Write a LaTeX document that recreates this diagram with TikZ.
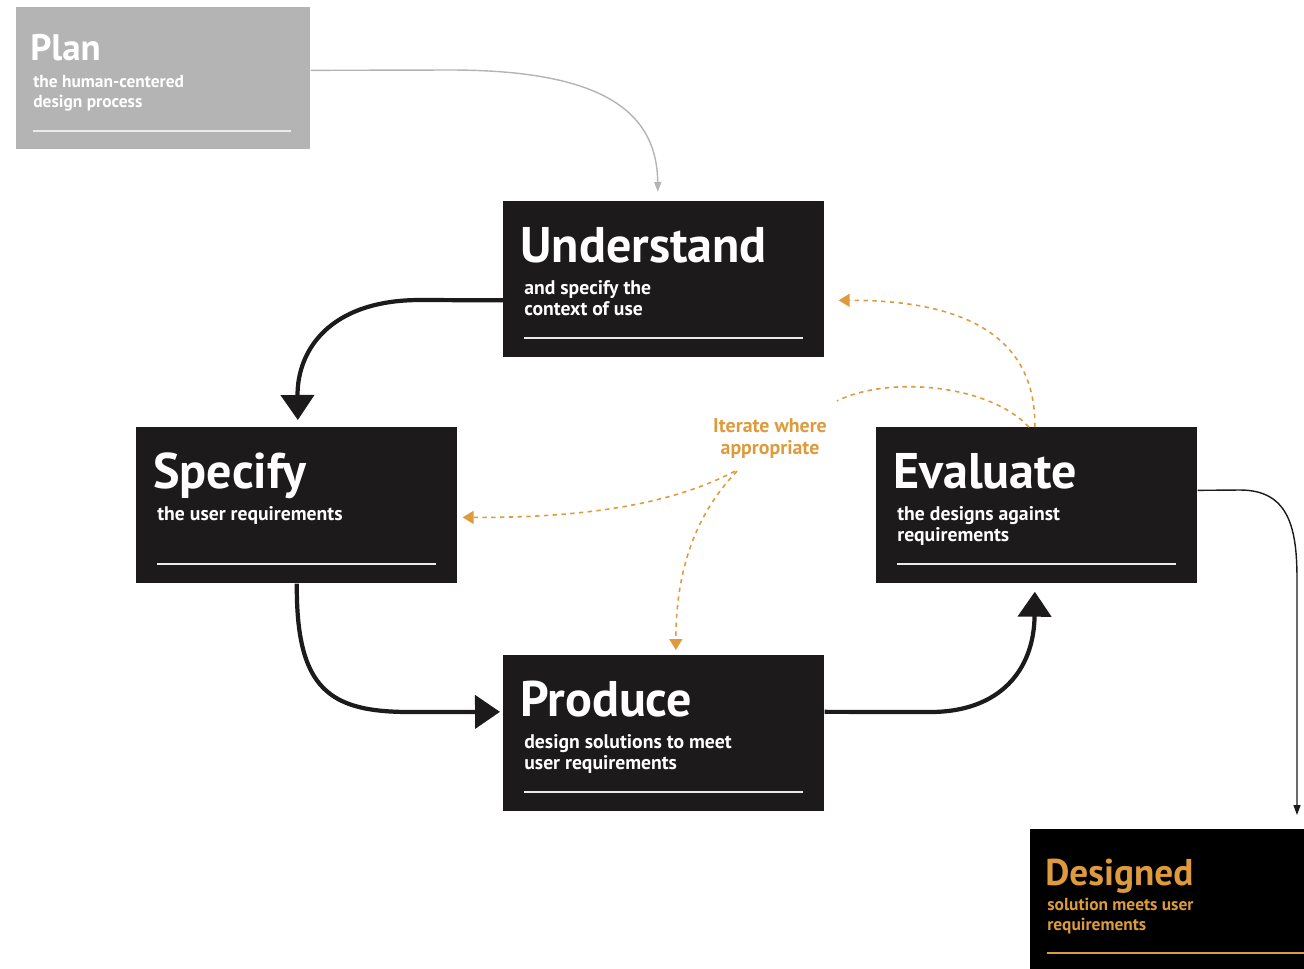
\documentclass[tikz,border=0pt]{standalone}
\usepackage{fontspec}
\setmainfont{PT Sans}
\usetikzlibrary{arrows.meta,calc}

\definecolor{boxblack}{RGB}{28,26,26}
\definecolor{plangray}{RGB}{180,180,180}
\definecolor{iterorange}{RGB}{222,155,62}
\definecolor{rulewhite}{RGB}{235,235,235}

\tikzset{
  stage/.style={fill=boxblack, minimum width=6.42cm, minimum height=3.12cm, anchor=north west, inner sep=0pt},
  stagetitle/.style={anchor=base west, inner sep=0pt, text=white, font=\bfseries\fontsize{28.5}{29}\selectfont},
  stagetext/.style={anchor=north west, inner sep=0pt, text=white, align=left, font=\bfseries\fontsize{11.2}{11.9}\selectfont},
  cycle/.style={line width=2.4pt, draw=boxblack, -{Triangle[length=0.5cm, width=0.66cm]}},
  iterate/.style={draw=iterorange, line width=0.9pt, dash pattern=on 2.5pt off 2.5pt, -{Triangle[length=0.22cm, width=0.26cm]}},
  handoff/.style={line width=0.8pt, -{Triangle[length=0.2cm, width=0.14cm]}},
}

% box, title, text and white rule of one stage
\newcommand{\stagebox}[4]{%
  \node[stage] (#1) at (#2) {};
  \node[stagetitle] (#1-title) at ($(#1.north west)+(17,61)$) {#3};
  \node[stagetext] (#1-text) at ($(#1.north west)+(21,79)$) {#4};
  \draw[rulewhite, line width=1.1pt] ($(#1.south west)+(21,-20)$) -- ($(#1.south east)+(-22,-20)$);
}

\begin{document}
\begin{tikzpicture}[x=0.02cm, y=-0.02cm]
  \useasboundingbox (0,0) rectangle (1304,968);

  % plan
  \node[stage, fill=plangray, minimum width=5.88cm, minimum height=2.84cm] (plan) at (16,7) {};
  \node[stagetitle, font=\bfseries\fontsize{21}{22}\selectfont] (plan-title) at ($(plan.north west)+(14,53)$) {Plan};
  \node[stagetext, font=\bfseries\fontsize{9.9}{11.3}\selectfont] (plan-text) at ($(plan.north west)+(17,68)$) {the human-centered\\design process};
  \draw[rulewhite, line width=1.1pt] ($(plan.south west)+(17,-19)$) -- ($(plan.south east)+(-20,-19)$);

  % the four stages
  \stagebox{und}{503,201}{Understand}{and specify the\\context of use}
  \stagebox{spec}{136,427}{Specify}{the user requirements}
  \stagebox{eval}{876,427}{Evaluate}{the designs against\\requirements}
  \stagebox{prod}{503,655}{Produce}{design solutions to meet\\user requirements}

  % designed
  \node[stage, fill=black, minimum width=6cm, minimum height=3cm] (des) at (1030,829) {};
  \node[stagetitle, text=iterorange, font=\bfseries\fontsize{21.2}{22}\selectfont] (des-title) at ($(des.north west)+(15,56)$) {Designed};
  \node[stagetext, text=iterorange, font=\bfseries\fontsize{9.9}{11.3}\selectfont] (des-text) at ($(des.north west)+(17,69)$) {solution meets user\\requirements};
  \draw[iterorange, line width=1.1pt] ($(des.north west)+(17,124)$) -- ($(des.north east)+(0,124)$);

  \node[font=\bfseries\fontsize{11.3}{12.5}\selectfont, text=iterorange, align=center] (iter) at (770,439) {Iterate where\\appropriate};

  % main cycle
  \draw[handoff, draw=plangray] ($(plan.east)+(0,-8)$) -- (450,70) .. controls (600,70) and (657,110) .. ($(und.north)+(-6,-9)$);
  \draw[cycle] ($(und.west)+(0,21)$) -- (420,300) .. controls (330,300) and (297,350) .. ($(spec.north)+(1,-7)$);
  \draw[cycle] (spec.south) .. controls (296,690) and (330,712) .. (410,712) -- ($(prod.west)+(-3,-21.5)$);
  \draw[cycle] ($(prod.east)+(0,-21.5)$) -- (930,712) .. controls (1000,712) and (1034,670) .. ($(eval.south)+(-2,8)$);
  \draw[handoff, draw=boxblack] ($(eval.east)+(0,-15)$) -- (1240,490) .. controls (1290,490) and (1297,530) .. (1297,580) -- ($(des.north west)+(267,-14)$);

  % iterations
  \draw[iterate] ($(eval.north)+(-2,0)$) .. controls (1036,340) and (970,300) .. ($(und.east)+(14,21)$);
  \draw[iterate, -] ($(eval.north)+(-8,0)$) .. controls (990,385) and (890,375) .. ($(iter.north east)+(4,-12)$);
  \draw[iterate] ($(iter.south)+(-35,6)$) .. controls (680,500) and (600,518) .. ($(spec.east)+(5,12)$);
  \draw[iterate] ($(iter.south)+(-33,6)$) .. controls (690,520) and (676,580) .. ($(prod.north)+(12,-5)$);
\end{tikzpicture}
\end{document}
